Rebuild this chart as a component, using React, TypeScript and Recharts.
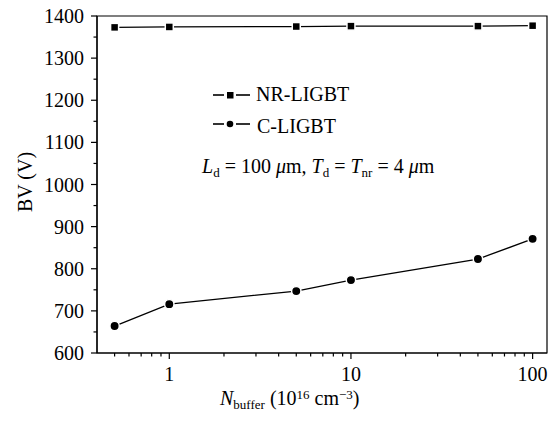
import React from "react";
import { Line, LineChart, ReferenceArea, XAxis, YAxis } from "recharts";

const nBuffer = [0.5, 1, 5, 10, 50, 100];
const bvNR = [1373, 1374, 1375, 1376, 1376, 1377];
const bvC = [664, 716, 747, 773, 823, 871];

const xMajor = [1, 10, 100];
const xTicks = [0.5, 0.6, 0.7, 0.8, 0.9, 1, 2, 3, 4, 5, 6, 7, 8, 9, 10, 20, 30, 40, 50, 60, 70, 80, 90, 100];
const yTicks = [600, 650, 700, 750, 800, 850, 900, 950, 1000, 1050, 1100, 1150, 1200, 1250, 1300, 1350, 1400];

const data = nBuffer.map((n, i) => ({ n, nr: bvNR[i], c: bvC[i] }));

const serif = { fontFamily: "Liberation Serif", fontSize: 20, fill: "#000" };
const sub = { fontSize: 13 };

function XTick(props: any) {
  const { x, y, payload } = props;
  const major = xMajor.includes(payload.value);
  return (
    <g>
      <line x1={x} x2={x} y1={y} y2={y + (major ? 6 : 3.5)} stroke="#000" strokeWidth={1.2} />
      {major && (
        <text x={x} y={y + 28} textAnchor="middle" style={serif}>
          {payload.value}
        </text>
      )}
    </g>
  );
}

function YTick(props: any) {
  const { x, y, payload } = props;
  const major = payload.value % 100 === 0;
  return (
    <g>
      <line x1={x} x2={x - (major ? 6 : 3.5)} y1={y} y2={y} stroke="#000" strokeWidth={1.2} />
      {major && (
        <text x={x - 13} y={y + 7} textAnchor="end" style={serif}>
          {payload.value}
        </text>
      )}
    </g>
  );
}

function SquareDot(props: any) {
  const { cx, cy, index } = props;
  return <rect key={`s${index}`} x={cx - 4} y={cy - 4} width={8} height={8} fill="#000" stroke="#fff" strokeWidth={1.5} />;
}

function CircleDot(props: any) {
  const { cx, cy, index } = props;
  return <circle key={`c${index}`} cx={cx} cy={cy} r={4.7} fill="#000" stroke="#fff" strokeWidth={1.5} />;
}

export default function App() {
  return (
    <div style={{ position: "absolute", left: 0, top: 0, width: 554, height: 424, background: "#fff" }}>
      <LineChart width={554} height={424} data={data} margin={{ top: 16, right: 7, left: 0, bottom: 0 }}>
        <XAxis
          dataKey="n"
          type="number"
          scale="log"
          domain={[0.4, 120]}
          allowDataOverflow
          ticks={xTicks}
          interval={0}
          tickSize={0}
          tickMargin={0}
          tick={<XTick />}
          height={71}
          axisLine={{ stroke: "#000", strokeWidth: 1.2 }}
        />
        <YAxis
          type="number"
          domain={[600, 1400]}
          ticks={yTicks}
          interval={0}
          tickSize={0}
          tickMargin={0}
          tick={<YTick />}
          width={97}
          axisLine={{ stroke: "#000", strokeWidth: 1.2 }}
        />
        <ReferenceArea x1={0.4} x2={120} y1={600} y2={1400} fill="none" stroke="#000" strokeWidth={1.2} ifOverflow="visible" />
        <Line dataKey="nr" stroke="#000" strokeWidth={1.3} dot={SquareDot} isAnimationActive={false} />
        <Line dataKey="c" stroke="#000" strokeWidth={1.3} dot={CircleDot} isAnimationActive={false} />
      </LineChart>
      <svg width={554} height={424} style={{ position: "absolute", left: 0, top: 0, pointerEvents: "none" }}>
        <line x1={213} x2={224} y1={95} y2={95} stroke="#000" strokeWidth={1.6} />
        <rect x={227} y={92} width={6.5} height={6.5} fill="#000" />
        <line x1={236} x2={250} y1={95} y2={95} stroke="#000" strokeWidth={1.6} />
        <text x={256} y={101} style={serif}>NR-LIGBT</text>

        <line x1={213} x2={224} y1={124} y2={124} stroke="#000" strokeWidth={1.6} />
        <circle cx={230} cy={124} r={3.3} fill="#000" />
        <line x1={236} x2={250} y1={124} y2={124} stroke="#000" strokeWidth={1.6} />
        <text x={257} y={133} style={serif}>C-LIGBT</text>

        <text x={202} y={173} style={serif}>
          <tspan fontStyle="italic">L</tspan>
          <tspan style={sub} dy={4}>d</tspan>
          <tspan dy={-4}> = 100 </tspan>
          <tspan fontStyle="italic">μ</tspan>
          <tspan>m, </tspan>
          <tspan fontStyle="italic">T</tspan>
          <tspan style={sub} dy={4}>d</tspan>
          <tspan dy={-4}> = </tspan>
          <tspan fontStyle="italic">T</tspan>
          <tspan style={sub} dy={4}>nr</tspan>
          <tspan dy={-4}> = 4 </tspan>
          <tspan fontStyle="italic">μ</tspan>
          <tspan>m</tspan>
        </text>

        <text x={32} y={182} textAnchor="middle" transform="rotate(-90 32 182)" style={serif}>BV (V)</text>

        <text x={220} y={405} style={serif}>
          <tspan fontStyle="italic">N</tspan>
          <tspan style={sub} dy={4}>buffer</tspan>
          <tspan dy={-4}> (10</tspan>
          <tspan style={sub} dy={-6}>16</tspan>
          <tspan dy={6}> cm</tspan>
          <tspan style={sub} dy={-6}>−3</tspan>
          <tspan dy={6}>)</tspan>
        </text>
      </svg>
    </div>
  );
}
